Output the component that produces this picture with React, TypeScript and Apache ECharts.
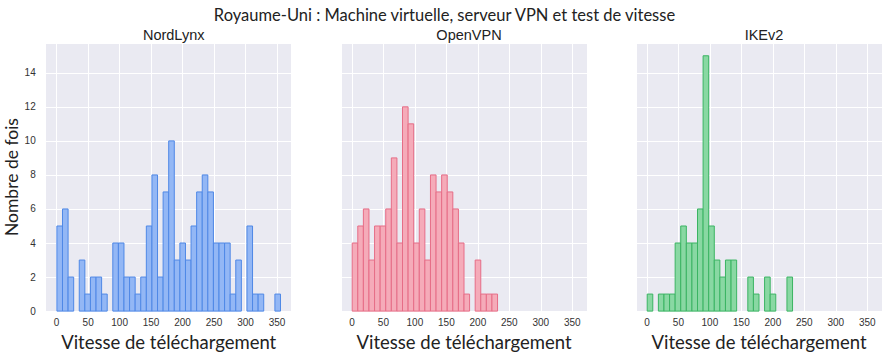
import React, { useEffect, useRef } from "react";
import * as echarts from "echarts";

const mainTitle = "Royaume-Uni : Machine virtuelle, serveur VPN et test de vitesse";
const panelTitles = ["NordLynx", "OpenVPN", "IKEv2"];
const xAxisTitle = "Vitesse de téléchargement";
const yAxisTitle = "Nombre de fois";

// common histogram bins
const binStart = 0.4;
const binWidth = 8.88;

const nordlynxCounts = [5, 6, 2, 0, 3, 1, 2, 2, 1, 0, 4, 4, 2, 2, 1, 2, 5, 8, 2, 7, 10, 3, 4, 3, 5, 7, 8, 7, 4, 4, 4, 1, 3, 0, 5, 1, 1, 0, 0, 1];
const openvpnCounts = [4, 5, 6, 3, 5, 5, 6, 9, 4, 12, 11, 4, 6, 3, 8, 7, 8, 7, 6, 4, 1, 0, 3, 1, 1, 1];
const ikev2Counts = [1, 0, 1, 1, 1, 4, 5, 4, 4, 6, 15, 5, 3, 2, 3, 3, 0, 0, 2, 1, 0, 2, 1, 0, 0, 2];

const fills = ["#93b7f5", "#f5abb9", "#89d8a3"];
const strokes = ["#4f88e6", "#e66d87", "#3bb463"];

const xMin = -17.4;
const xMax = 373.4;
const yMax = 15.75;

const gridLefts = [45.7, 341, 636];
const gridWidth = 246;

function toBins(counts: number[]) {
  const out: number[][] = [];
  counts.forEach((c, i) => {
    if (c > 0) out.push([binStart + i * binWidth, binStart + (i + 1) * binWidth, c]);
  });
  return out;
}

export default function App() {
  const ref = useRef<HTMLDivElement>(null);
  useEffect(() => {
    if (!ref.current) return;
    const chart = echarts.init(ref.current, undefined, { renderer: "svg" });
    const allCounts = [nordlynxCounts, openvpnCounts, ikev2Counts];
    const font = "Liberation Sans";
    const option: any = {
      animation: false,
      backgroundColor: "#ffffff",
      title: [
        {
          text: mainTitle,
          left: "center",
          top: 1,
          textStyle: { fontFamily: "Lato", fontWeight: "normal", fontSize: 16.5, color: "#222" },
        },
        ...panelTitles.map((t, i) => ({
          text: t,
          left: gridLefts[i] + gridWidth / 2,
          textAlign: "center",
          top: 22,
          textStyle: { fontFamily: font, fontWeight: "normal", fontSize: 14.5, color: "#222" },
        })),
      ],
      grid: gridLefts.map((l) => ({
        left: l,
        width: gridWidth,
        top: 43,
        height: 272,
        show: true,
        backgroundColor: "#eaeaf2",
        borderWidth: 0,
      })),
      xAxis: gridLefts.map((_, i) => ({
        type: "value",
        gridIndex: i,
        min: xMin,
        max: xMax,
        minInterval: 50,
        maxInterval: 50,
        axisLine: { show: false },
        axisTick: { show: false },
        splitLine: { show: true, lineStyle: { color: "#ffffff", width: 1 } },
        axisLabel: {
          showMinLabel: false,
          showMaxLabel: false,
          fontFamily: font,
          fontSize: 10,
          color: "#333",
          margin: 6,
          formatter: (v: number) => (Math.abs(v % 50) < 1e-6 ? String(v) : ""),
        },
        name: xAxisTitle,
        nameLocation: "middle",
        nameGap: 19,
        nameTextStyle: { fontFamily: "Lato", fontSize: 18.5, color: "#222" },
      })),
      yAxis: gridLefts.map((_, i) => ({
        type: "value",
        gridIndex: i,
        min: 0,
        max: yMax,
        interval: 2,
        axisLine: { show: false },
        axisTick: { show: false },
        splitLine: { show: true, lineStyle: { color: "#ffffff", width: 1 } },
        axisLabel: {
          show: i === 0,
          showMaxLabel: false,
          fontFamily: font,
          fontSize: 10,
          color: "#333",
          margin: 10,
          formatter: (v: number) => (Math.abs(v % 2) < 1e-6 ? String(v) : ""),
        },
        name: i === 0 ? yAxisTitle : "",
        nameLocation: "middle",
        nameGap: 17,
        nameTextStyle: { fontFamily: "Lato", fontSize: 17.5, color: "#222" },
      })),
      series: allCounts.map((counts, i) => ({
        type: "custom",
        xAxisIndex: i,
        yAxisIndex: i,
        data: toBins(counts),
        encode: { x: [0, 1], y: 2 },
        renderItem: (_params: any, api: any) => {
          const x0 = api.value(0);
          const x1 = api.value(1);
          const h = api.value(2);
          const p0 = api.coord([x0, h]);
          const p1 = api.coord([x1, 0]);
          return {
            type: "rect",
            shape: { x: p0[0], y: p0[1], width: p1[0] - p0[0], height: p1[1] - p0[1] },
            style: { fill: fills[i], stroke: strokes[i], lineWidth: 1 },
          };
        },
      })),
    };
    chart.setOption(option);
    return () => chart.dispose();
  }, []);
  return (
    <div
      ref={ref}
      style={{ position: "fixed", left: 0, top: 0, width: 889, height: 356 }}
    />
  );
}
